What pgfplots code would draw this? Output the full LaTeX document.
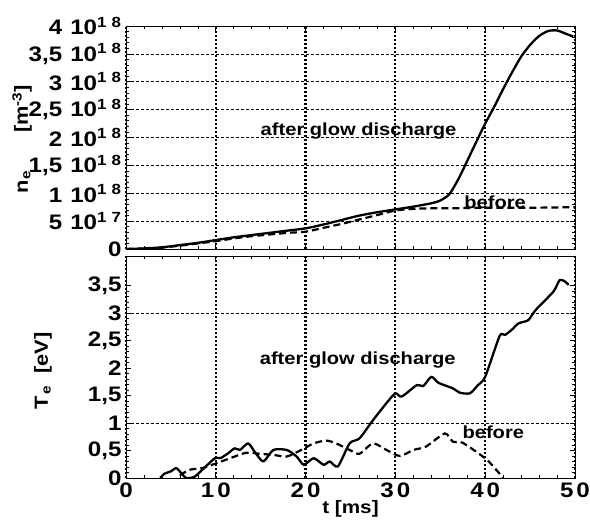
\documentclass[border=0pt]{standalone}
\usepackage{pgfplots}
\pgfplotsset{compat=1.18}
\usepackage{fontspec}
\setmainfont{Liberation Sans}
\newfontfamily\lblfont{Liberation Sans}[FakeStretch=1.15]
\newcommand{\tkf}{\lblfont\fontsize{21}{22}\selectfont\bfseries}
\newcommand{\E}[2]{\tkf #1\hspace{8pt}10\textsuperscript{1\hspace{5pt}#2}}
\newcommand{\T}[1]{\tkf #1}
\begin{document}
\begin{tikzpicture}
\pgfplotsset{
  base/.style={
    scale only axis, width=449pt, xmin=0, xmax=50,
    axis line style={line width=0.8pt},
    tick style={black, line width=0.6pt},
    major tick length=5pt, minor tick length=3pt,
    tick align=inside, xtick={0,10,...,50},
    minor x tick num=4, minor y tick num=4,
    xmajorgrids,
    x grid style={line width=2.2pt, dash pattern=on 2pt off 2pt, black},
    y grid style={line width=0.6pt, dash pattern=on 3pt off 2pt, black},
    tick label style={font=\tkf},
    yticklabel style={xshift=-1pt},
    clip=true,
  },
  sol/.style={black, line width=2.3pt, line join=round, smooth, tension=0.4},
  dsh/.style={black, line width=2.2pt, dash pattern=on 7pt off 4pt, smooth, tension=0.4},
}
% ---------- bottom panel ----------
\begin{axis}[base, name=bot, at={(0,0)}, anchor=south west, height=222pt,
  ymin=0, ymax=4.036,
  ytick={0,0.5,...,3.5},
  yticklabels={\T{0},\T{0,5},\T{1},\T{1,5},\T{2},\T{2,5},\T{3},\T{3,5}},
  extra y ticks={1,3}, extra y tick labels={},
  extra y tick style={grid=major},
  xticklabels={\T{0},\T{1\hspace{3pt}0},\T{2\hspace{3pt}0},\T{3\hspace{3pt}0},\T{4\hspace{3pt}0},\T{5\hspace{3pt}0}},
  xticklabel style={yshift=-1pt},
  xlabel={\lblfont\fontsize{18}{20}\selectfont\bfseries t [ms]},
  xlabel style={yshift=4pt},
]
\addplot[sol] coordinates {
(3.8,0) (4.3,0.08) (5.0,0.12) (5.6,0.18) (6.2,0.08) (6.7,0.0) (7.6,0.02)
(8.5,0.15) (9.9,0.36) (10.5,0.36) (11.3,0.44) (12.1,0.54) (12.7,0.51)
(13.6,0.63) (14.4,0.46) (15.3,0.30) (16.4,0.51) (17.9,0.51) (19.0,0.39)
(19.8,0.24) (20.9,0.36) (22.0,0.24) (22.7,0.30) (23.6,0.21) (24.9,0.63)
(26.0,0.72) (27.5,1.05) (29.0,1.36) (30.0,1.54) (30.7,1.48) (32.4,1.69)
(33.1,1.67) (34.0,1.84) (34.8,1.73) (36.4,1.63) (37.2,1.55) (38.3,1.54)
(39.2,1.69) (40.0,1.84) (41.6,2.58) (42.2,2.60) (43.0,2.70) (43.7,2.81)
(44.8,2.87) (45.6,3.05) (47.6,3.39) (48.3,3.60) (48.9,3.57) (49.3,3.51)
};
\addplot[dsh] coordinates {
(6.0,0.05) (7.1,0.15) (8.5,0.18) (10.1,0.27) (11.6,0.36) (13.4,0.46)
(14.9,0.44) (16.4,0.42) (17.9,0.39) (19.4,0.50) (20.9,0.63) (22.3,0.68)
(23.4,0.63) (24.9,0.51) (26.0,0.44) (27.5,0.63) (29.0,0.51) (30.5,0.40)
(32.0,0.51) (33.4,0.57) (35.5,0.81) (36.4,0.66) (37.5,0.64) (40.2,0.33)
(42.0,0)
};
\node[font=\lblfont\fontsize{17.5}{18}\selectfont\bfseries] at (axis cs:25.8,2.15) {after glow discharge};
\node[font=\lblfont\fontsize{17.5}{18}\selectfont\bfseries] at (axis cs:40.9,0.84) {before};
\end{axis}
% ---------- top panel ----------
\begin{axis}[base, name=top, at={(0,229pt)}, anchor=south west, height=223pt,
  ymin=0, ymax=4,
  ytick={0,0.5,...,4},
  ymajorgrids,
  yticklabels={\T{0},\E{5}{7},\E{1}{8},\E{1,5}{8},\E{2}{8},\E{2,5}{8},\E{3}{8},\E{3,5}{8},\E{4}{8}},
  xticklabels={},
]
\addplot[sol] coordinates {
(0,0) (2,0.01) (4,0.03) (6,0.07) (8,0.11) (10,0.16) (12,0.21) (14,0.25)
(16,0.29) (18,0.33) (20,0.37) (22,0.44) (24,0.52) (26,0.60) (28,0.66)
(30,0.71) (32,0.76) (34,0.82) (35,0.87) (36,0.98) (37,1.25) (38,1.58)
(39,1.92) (40,2.25) (41,2.55) (42,2.87) (43,3.17) (44,3.45) (45,3.66)
(46,3.82) (47,3.91) (48,3.92) (49,3.86) (49.8,3.81)
};
\addplot[dsh] coordinates {
(0,0) (2,0.005) (4,0.025) (6,0.06) (8,0.10) (10,0.14) (12,0.19) (14,0.23)
(16,0.26) (18,0.29) (20,0.31) (22,0.38) (24,0.45) (26,0.53) (28,0.61)
(30,0.69) (32,0.72) (34,0.73) (36,0.73) (40,0.74) (45,0.74) (50,0.75)
};
\node[font=\lblfont\fontsize{17.5}{18}\selectfont\bfseries] at (axis cs:25.9,2.12) {after glow discharge};
\node[font=\lblfont\fontsize{17.5}{18}\selectfont\bfseries] at (axis cs:41.1,0.84) {before};
\end{axis}
% y axis labels
\node[rotate=90, anchor=center, font=\lblfont\fontsize{19}{20}\selectfont\bfseries]
  at ([xshift=-83pt, yshift=107pt]bot.south west) {T\hspace{2pt}\textsubscript{e}\hspace{12pt}[eV]};
\node[rotate=90, anchor=center, font=\lblfont\fontsize{19}{20}\selectfont\bfseries]
  at ([xshift=-104pt, yshift=110pt]top.south west) {n\textsubscript{e}\hspace{38pt}[m\textsuperscript{-3}]};
\pgfresetboundingbox
\path (-126pt,-54pt) rectangle (464pt,478pt);
\end{tikzpicture}
\end{document}
